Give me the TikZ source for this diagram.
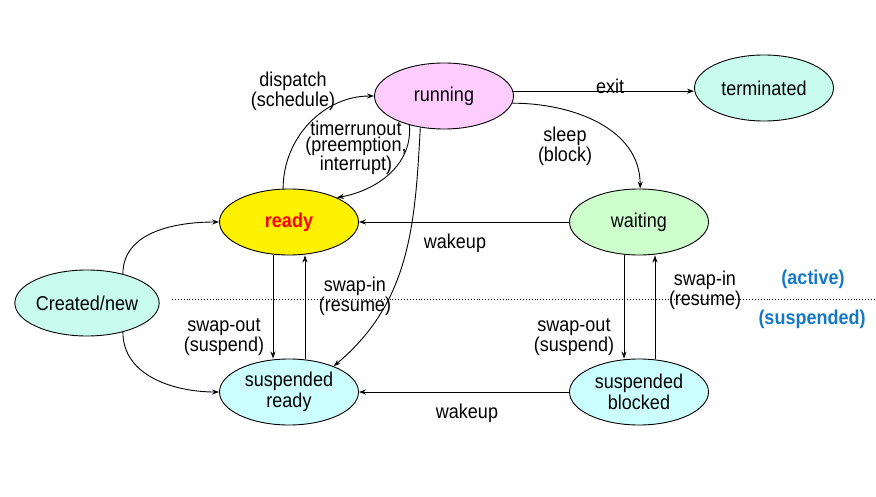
\documentclass[tikz,border=0pt]{standalone}
\usepackage{fontspec}
\setmainfont{Liberation Sans}[FakeStretch=0.9]
\usetikzlibrary{shapes.geometric,arrows.meta}
\definecolor{cpink}{RGB}{255,204,255}
\definecolor{caqua}{RGB}{200,252,236}
\definecolor{cgreen}{RGB}{204,255,204}
\definecolor{ccyan}{RGB}{204,255,255}
\definecolor{cblue}{RGB}{20,120,200}
\begin{document}
\begin{tikzpicture}[x=1pt,y=-1pt,
  state/.style={ellipse,draw,line width=0.9pt,minimum width=139pt,minimum height=66pt,inner sep=0pt,align=center,font=\fontsize{20}{21}\selectfont},
  lbl/.style={align=center,inner sep=0pt,font=\fontsize{20}{20}\selectfont},
  conn/.style={line width=0.9pt,-{Stealth[length=7pt,width=5pt]}},
  side/.style={inner sep=0pt,font=\bfseries\fontsize{20}{20}\selectfont,text=cblue}]
\useasboundingbox (0,0) rectangle (876,497);
% states
\node[state,fill=cpink] (run) at (444,96) {running};
\node[state,fill=caqua] (term) at (764,88) {terminated};
\node[state,fill=yellow] (ready) at (289,222) {\textcolor{red}{\bfseries ready}};
\node[state,fill=cgreen] (wait) at (639,222) {waiting};
\node[state,fill=caqua] (new) at (87,303) {Created/new};
\node[state,fill=ccyan] (sready) at (289,392) {suspended\\ready};
\node[state,fill=ccyan] (sblock) at (639,392) {suspended\\blocked};
% separator
\draw[dotted,line width=0.9pt] (172,299) -- (876,299);
\node[side] (act) at (813,279) {(active)};
\node[side] (susp) at (812,319) {(suspended)};
% connectors
\draw[conn] (run.4) -- (run.4 -| term.west);
\draw[conn] (run.-6) to[out=0,in=90] (wait.88);
\draw[conn] (ready.100) to[out=90,in=180] (run.west);
\draw[conn] (run.220) to[out=-85,in=10] (ready.27);
\draw[conn] (run.233) to[out=-93,in=40] (sready.30);
\draw[conn] (wait.west) -- (ready.east);
\draw[conn] ([xshift=-16pt]ready.south) -- ([xshift=-16pt]sready.north);
\draw[conn] ([xshift=16pt]sready.north) -- ([xshift=16pt]ready.south);
\draw[conn] ([xshift=-15pt]wait.south) -- ([xshift=-15pt]sblock.north);
\draw[conn] ([xshift=16pt]sblock.north) -- ([xshift=16pt]wait.south);
\draw[conn] (sblock.west) -- (sready.east);
\draw[conn] (new.39) to[out=90,in=180] (ready.west);
\draw[conn] (new.-39) to[out=-90,in=180] (sready.west);
% labels
\node[lbl] (lexit) at (610,86) {exit};
\node[lbl] (lsleep) at (565,146) {sleep\\(block)};
\node[lbl] (ldisp) at (293,91) {dispatch\\(schedule)};
\node[lbl,font=\fontsize{20}{16}\selectfont] (ltimer) at (356,148) {timerrunout\\(preemption,\\interrupt)};
\node[lbl] (lwake1) at (455,243) {wakeup};
\node[lbl] (lso1) at (224,337) {swap-out\\(suspend)};
\node[lbl] (lsi1) at (355,296) {swap-in\\(resume)};
\node[lbl] (lso2) at (574,337) {swap-out\\(suspend)};
\node[lbl] (lsi2) at (705,290) {swap-in\\(resume)};
\node[lbl] (lwake2) at (467,413) {wakeup};
\end{tikzpicture}
\end{document}
